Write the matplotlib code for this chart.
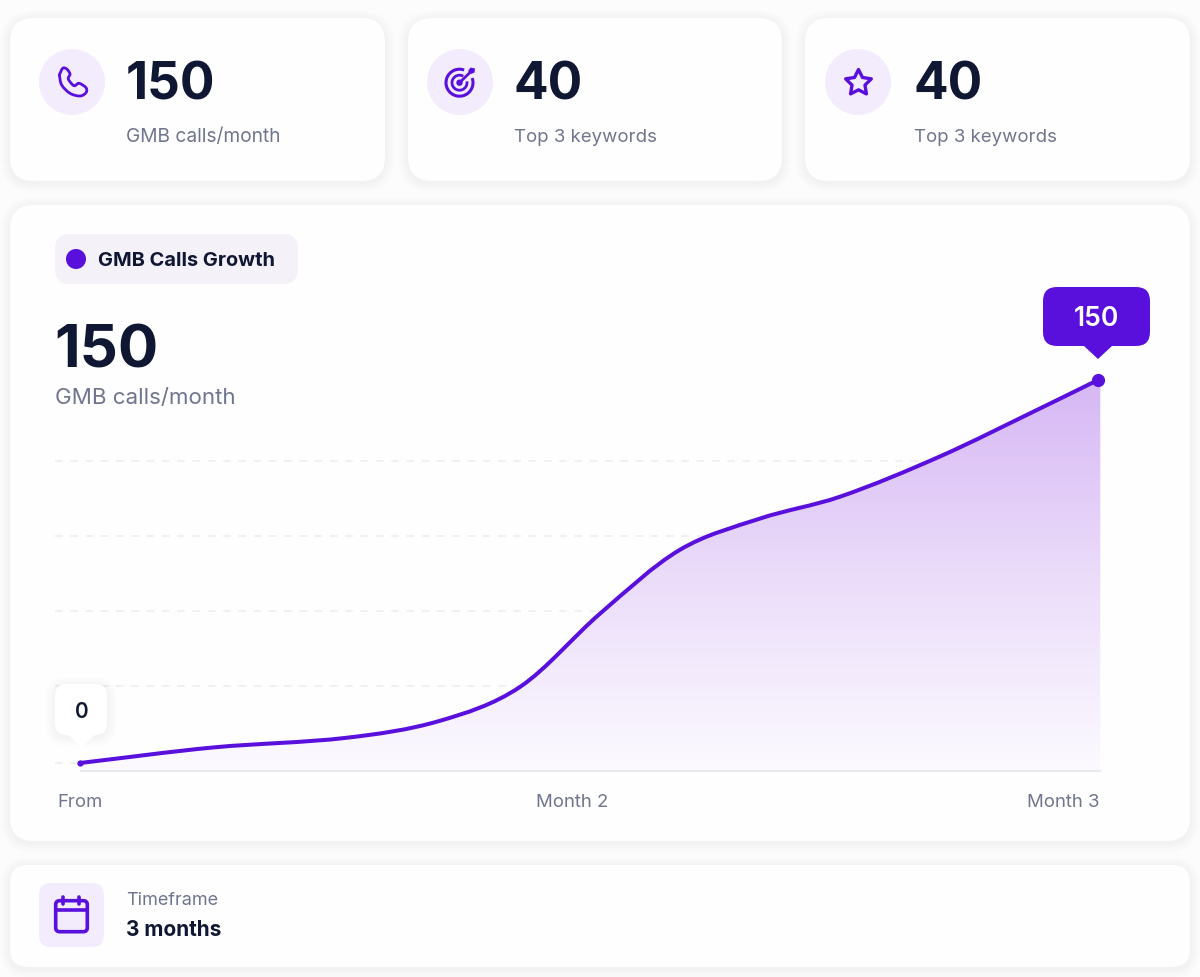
import matplotlib
matplotlib.use('Agg')
import matplotlib.pyplot as plt
import numpy as np
from matplotlib.colors import LinearSegmentedColormap
from matplotlib.patches import Arc, Circle, FancyBboxPatch, PathPatch, Polygon
from matplotlib.path import Path

plt.rcParams['font.family'] = ['Inter', 'DejaVu Sans']

# chart data
days = [0, 11.8, 23.6, 31.8, 38.9, 46.0, 53.0, 60.1, 67.2, 76.0, 84.9, 90]
calls = [0, 6.1, 9.9, 16.5, 29.8, 58.6, 83.4, 95.7, 104.3, 120.0, 138.9, 150]
tick_days = [0, 43.5, 86.9]
tick_labels = ['From', 'Month 2', 'Month 3']
grid_values = [30.2, 59.5, 88.9, 118.4]

# stat cards
card_values = ['150', '40', '40']
card_labels = ['GMB calls/month', 'Top 3 keywords', 'Top 3 keywords']
card_label_sizes = [13.8, 13.4, 13.4]

PURPLE = '#5a10dc'
DARK = '#0f1733'
GRAY = '#6f758e'
TINT = '#f3ecfc'
W, H = 1200, 977

fig = plt.figure(figsize=(W / 100, H / 100), dpi=100, facecolor='#fcfcfd')

# layer for cards, in pixels of the picture
bg = fig.add_axes([0, 0, 1, 1], zorder=0)
bg.set_xlim(0, W)
bg.set_ylim(H, 0)
bg.axis('off')

# top layer for tooltips
top = fig.add_axes([0, 0, 1, 1], zorder=2)
top.set_xlim(0, W)
top.set_ylim(H, 0)
top.axis('off')


def rounded(ax, x0, y0, x1, y1, r, color, **kw):
    p = FancyBboxPatch((x0, y0), x1 - x0, y1 - y0, boxstyle=f'round,pad=0,rounding_size={r}',
                       facecolor=color, edgecolor='none', **kw)
    ax.add_patch(p)
    return p


def card(ax, x0, y0, x1, y1, r=24):
    for i in range(10, 0, -1):
        rounded(ax, x0 - i, y0 - i + 2, x1 + i, y1 + i + 2, r + i, '#7a7a9a', alpha=0.0022)
    rounded(ax, x0, y0, x1, y1, r, '#fffeff')


def smooth_path(x, y, t=None):
    # bezier segments through the points, t is the curve parameter (x if not given)
    pts = np.column_stack((x, y))
    t = np.asarray(x if t is None else t, dtype=float)
    tan = np.zeros_like(pts)
    tan[1:-1] = (pts[2:] - pts[:-2]) / (t[2:] - t[:-2])[:, None]
    tan[0] = (pts[1] - pts[0]) / (t[1] - t[0])
    tan[-1] = (pts[-1] - pts[-2]) / (t[-1] - t[-2])
    verts = [pts[0]]
    codes = [Path.MOVETO]
    for i in range(len(pts) - 1):
        h = t[i + 1] - t[i]
        verts += [pts[i] + tan[i] * h / 3, pts[i + 1] - tan[i + 1] * h / 3, pts[i + 1]]
        codes += [Path.CURVE4] * 3
    return np.array(verts), codes


card(bg, 10, 18, 385, 181)
card(bg, 408, 18, 782, 181)
card(bg, 805, 18, 1190, 181)
card(bg, 10, 205, 1190, 841)
card(bg, 10, 865, 1190, 967, r=18)

# stat cards text and icon discs
for cx, tx, value, label, size in zip([72, 460, 858], [127, 515, 914], card_values, card_labels,
                                      card_label_sizes):
    bg.add_patch(Circle((cx, 82), 33, color=TINT, lw=0))
    bg.text(tx - 1, 99, value, fontsize=37, fontweight='bold', color=DARK, va='baseline')
    bg.text(tx - 0.5, 142, label, fontsize=size, color=GRAY, va='baseline')

icon = dict(color=PURPLE, lw=2, fill=False, capstyle='round', joinstyle='round')

# phone
px = [59.3, 62.7, 66.7, 70, 68.3, 74, 79, 86, 86, 80, 70, 61.7, 59.3]
py = [75, 68.3, 69, 74, 79, 85.7, 83.3, 87.7, 92.7, 96, 93.3, 85, 75]
v, c = smooth_path(px, py, t=np.arange(len(px)))
bg.add_patch(PathPatch(Path(v, c), **icon))

# target
bg.add_patch(Arc((459.5, 82.7), 27, 27, theta1=-20, theta2=290, color=PURPLE, lw=2.2))
bg.add_patch(Arc((459.5, 82.7), 15, 15, theta1=-10, theta2=300, color=PURPLE, lw=2))
bg.add_patch(Circle((459.5, 82.7), 3.2, color=PURPLE, lw=0))
bg.plot([459.5, 472], [82.7, 70.5], color=PURPLE, lw=2, solid_capstyle='round')
bg.add_patch(Polygon([[468, 71], [470.5, 67.5], [475, 68.5], [474.5, 72.5], [471, 74]],
                     closed=True, color=PURPLE, lw=0))

# star
ang = np.deg2rad(np.arange(0, 360, 36) - 90)
rad = np.where(np.arange(10) % 2 == 0, 13.5, 6.8)
bg.add_patch(Polygon(np.column_stack((858.5 + rad * np.cos(ang), 83 + rad * np.sin(ang))),
                     closed=True, color=PURPLE, lw=2.4, fill=False, joinstyle='round'))

# legend pill and headline
rounded(bg, 55, 234, 298, 284, 15, '#f4f1f9')
bg.add_patch(Circle((76, 259), 10, color=PURPLE, lw=0))
bg.text(98, 266, 'GMB Calls Growth', fontsize=14.4, fontweight='bold', color=DARK, va='baseline')
bg.text(54, 367, '150', fontsize=43, fontweight='bold', color=DARK, va='baseline')
bg.text(55, 404, 'GMB calls/month', fontsize=16.1, color=GRAY, va='baseline')

# timeframe card
rounded(bg, 39, 883, 104, 947, 12, TINT)
bg.add_patch(FancyBboxPatch((55.7, 900.7), 31.6, 31, boxstyle='round,pad=0,rounding_size=4',
                            facecolor='none', edgecolor=PURPLE, lw=2.6))
bg.plot([55.7, 87.3], [910, 910], color=PURPLE, lw=2.6)
bg.plot([63.3, 63.3], [897, 904], color=PURPLE, lw=2.6, solid_capstyle='round')
bg.plot([79.3, 79.3], [897, 904], color=PURPLE, lw=2.6, solid_capstyle='round')
bg.text(126, 905, 'Timeframe', fontsize=13, color=GRAY, va='baseline')
bg.text(126, 936, '3 months', fontsize=15, fontweight='bold', color=DARK, va='baseline')

# chart area: 55..1103 px across, 771..370 px down
ax = fig.add_axes([55 / W, 1 - 771 / H, (1103 - 55) / W, (771 - 370) / H], zorder=1)
ax.patch.set_alpha(0)
xlim = (-2.21, 90.44)
ylim = (-3.13, 153.9)
for s in ax.spines.values():
    s.set_visible(False)

ax.hlines(grid_values, xlim[0], 90, color='#ecebf2', lw=1.1, linestyles=(0, (5, 5)), zorder=1)
ax.hlines(0, xlim[0], 0, color='#ecebf2', lw=1.1, linestyles=(0, (5, 5)), zorder=1)

verts, codes = smooth_path(days, calls)
fill_path = Path(np.vstack((verts, [[90.2, 150], [90.2, ylim[0]], [0, ylim[0]], [0, 0]])),
                 codes + [Path.LINETO, Path.LINETO, Path.LINETO, Path.CLOSEPOLY])
cmap = LinearSegmentedColormap.from_list('fade', ['#fcfaff', '#ebdcfa', '#d6b7f4'])
im = ax.imshow(np.linspace(1, 0, 256).reshape(-1, 1), extent=(0, 90.2, ylim[0], 150), aspect='auto',
               cmap=cmap, vmin=0, vmax=1, zorder=2, origin='upper')
im.set_clip_path(PathPatch(fill_path, transform=ax.transData))

ax.hlines(ylim[0], 0, 90.3, color='#e6e6ee', lw=1.3, zorder=3, clip_on=False)
ax.add_patch(PathPatch(Path(verts, codes), facecolor='none', edgecolor=PURPLE, lw=2.9,
                       capstyle='round', zorder=4))
ax.plot(days[-1], calls[-1], 'o', color=PURPLE, ms=9.5, mew=0, zorder=5, clip_on=False)
ax.plot(days[0], calls[0], 'o', color=PURPLE, ms=4.5, mew=0, zorder=5, clip_on=False)

ax.set_xlim(xlim)
ax.set_ylim(ylim)
ax.set_yticks([])
ax.set_xticks(tick_days)
ax.set_xticklabels(tick_labels, fontsize=13.4, color=GRAY)
ax.tick_params(axis='x', length=0, pad=16.5)

# tooltips
rounded(top, 1043, 287, 1150, 346, 14, PURPLE)
top.add_patch(Polygon([[1084, 346], [1112, 346], [1098, 359]], closed=True, color=PURPLE, lw=0))
top.text(1096.5, 316, str(calls[-1]), fontsize=19, fontweight='semibold', color='white',
         ha='center', va='center_baseline')

for i in range(10, 0, -1):
    rounded(top, 55 - i, 684 - i + 2, 107 + i, 735 + i + 2, 12 + i, '#7a7a9a', alpha=0.004)
rounded(top, 55, 684, 107, 735, 12, 'white')
top.add_patch(Polygon([[68, 735], [95, 735], [81, 747]], closed=True, color='white', lw=0))
top.text(81.5, 710, str(calls[0]), fontsize=15, fontweight='semibold', color=DARK,
         ha='center', va='center_baseline')

fig.savefig('out.png', dpi=100, facecolor=fig.get_facecolor())
